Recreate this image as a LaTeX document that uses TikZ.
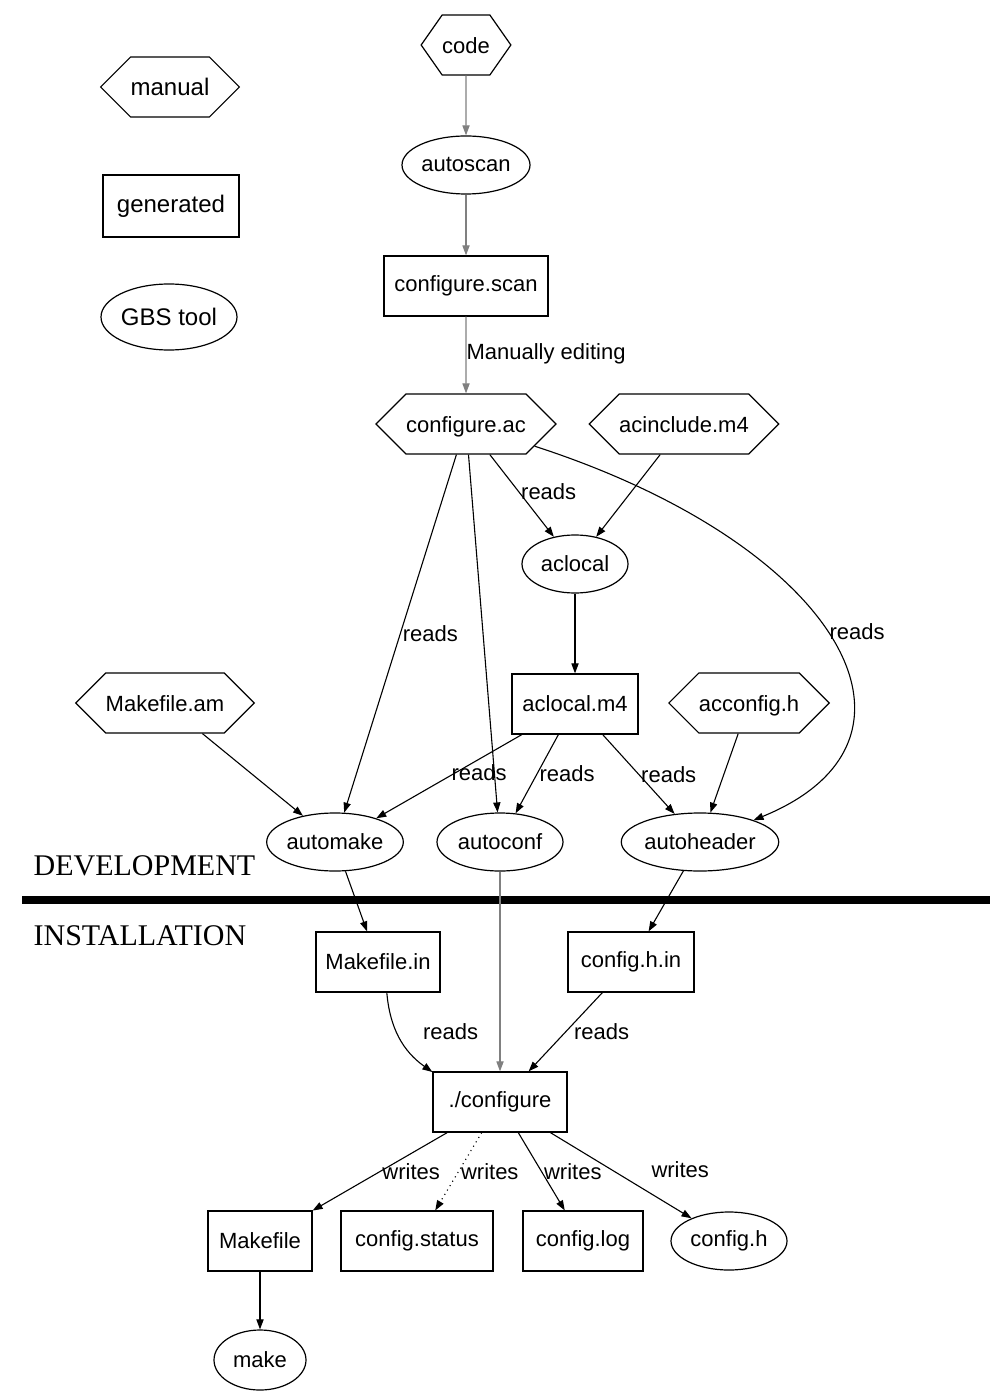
\documentclass[tikz,border=0pt]{standalone}
\usepackage{fontspec}
\setmainfont{Liberation Sans}
\newfontfamily\phasefont{Liberation Serif}
\usetikzlibrary{shapes.geometric,shapes.symbols,arrows.meta}

\tikzset{
  manual/.style={draw, signal, signal to=east and west, signal pointer angle=90,
    minimum height=30pt, inner ysep=0pt, inner xsep=0pt, text height=10pt, text depth=1.5pt},
  generated/.style={draw, rectangle, minimum height=30pt},
  tool/.style={draw, ellipse, minimum height=29pt, inner sep=0pt},
  flow/.style={-{Triangle[length=5pt,width=3.6pt]}, line width=0.55pt},
  lab/.style={right, inner sep=1pt, text=black},
  phase/.style={anchor=west, inner sep=0pt, font=\phasefont\fontsize{15pt}{18pt}\selectfont},
}

\begin{document}
\begin{tikzpicture}[x=0.5pt, y=-0.5pt, line width=0.6pt,
    every node/.append style={font=\fontsize{11pt}{13pt}\selectfont}]
            \useasboundingbox (0,0) rectangle (996,1395);

            \node[manual, font=\fontsize{12pt}{14pt}\selectfont] (legman) at (170,87) {manual};
            \node[generated, minimum width=68pt, minimum height=31pt, font=\fontsize{12pt}{14pt}\selectfont] (leggen) at (171,206) {generated};
            \node[tool, minimum width=68pt, minimum height=33pt, font=\fontsize{12pt}{14pt}\selectfont] (legtool) at (169,317) {GBS tool};

            \node[manual, signal pointer angle=110] (code) at (466,45) {code};
            \node[tool, minimum width=64pt] (autoscan) at (466,165) {autoscan};
            \node[generated, minimum width=82pt] (cscan) at (466,286) {configure.scan};
            \node[manual] (cac) at (466,424) {configure.ac};
            \node[manual] (acinc) at (684,424) {acinclude.m4};
            \node[tool, minimum width=53pt] (aclocal) at (575,564) {aclocal};
            \node[generated, minimum width=63pt] (acm4) at (575,704) {aclocal.m4};
            \node[manual] (mfam) at (165,703) {Makefile.am};
            \node[manual] (accfg) at (749,703) {acconfig.h};
            \node[tool, minimum width=67pt] (automake) at (335,842) {automake};
            \node[tool, minimum width=63pt] (autoconf) at (500,842) {autoconf};
            \node[tool, minimum width=76pt] (autoheader) at (700,842) {autoheader};

            \node[phase] (dev) at (33,866) {DEVELOPMENT};
            \draw[line width=4pt] (22,900) -- (990,900);
            \node[phase] (inst) at (33,936) {INSTALLATION};

            \node[generated, minimum width=62pt] (mfin) at (378,962) {Makefile.in};
            \node[generated, minimum width=63pt] (chin) at (631,962) {config.h.in};
            \node[generated, minimum width=67pt] (conf) at (500,1102) {./configure};
            \node[generated, minimum width=52pt] (mf) at (260,1241) {Makefile};
            \node[generated, minimum width=76pt] (cstatus) at (417,1241) {config.status};
            \node[generated, minimum width=60pt] (clog) at (583,1241) {config.log};
            \node[tool, minimum width=58pt] (ch) at (729,1241) {config.h};
            \node[tool, minimum width=46pt, minimum height=30pt] (make) at (260,1360) {make};

            \draw (code) edge[flow, black!50] (autoscan);
            \draw (autoscan) edge[flow, black!50] (cscan);
            \draw (cscan) edge[flow, black!50] node[lab, inner sep=0pt, pos=0.48] {Manually editing} (cac);

            \draw (cac) edge[flow] node[lab, pos=0.45] {reads} (aclocal);
            \draw (acinc) edge[flow] (aclocal);
            \draw (cac) edge[flow] node[lab, pos=0.5] {reads} (automake);
            \draw (cac) edge[flow] (autoconf);
            \draw[flow] (cac) .. controls (840,545) and (950,740) .. (autoheader) node[lab, pos=0.48] {reads};
            \draw (aclocal) edge[flow] (acm4);
            \draw (acm4) edge[flow] node[lab, pos=0.5, yshift=2pt] {reads} (automake);
            \draw (acm4) edge[flow] node[lab, pos=0.5] {reads} (autoconf);
            \draw (acm4) edge[flow] node[lab, pos=0.5] {reads} (autoheader);
            \draw (mfam) edge[flow] (automake);
            \draw (accfg) edge[flow] (autoheader);

            \draw (automake) edge[flow] (mfin);
            \draw (autoconf) edge[flow, black!50] (conf);
            \draw (autoheader) edge[flow] (chin);
            \draw (mfin) edge[flow, bend right=25] node[lab, pos=0.42, xshift=12pt] {reads} (conf);
            \draw (chin) edge[flow] node[lab, pos=0.5, xshift=3pt] {reads} (conf);

            \draw (conf) edge[flow] node[lab, pos=0.5] {writes} (mf);
            \draw (conf) edge[flow, dotted] node[lab, pos=0.5] {writes} (cstatus);
            \draw (conf) edge[flow] node[lab, pos=0.5] {writes} (clog);
            \draw (conf) edge[flow] node[lab, pos=0.5, xshift=14pt, yshift=3pt] {writes} (ch);
            \draw (mf) edge[flow] (make);
        \end{tikzpicture}
\end{document}
